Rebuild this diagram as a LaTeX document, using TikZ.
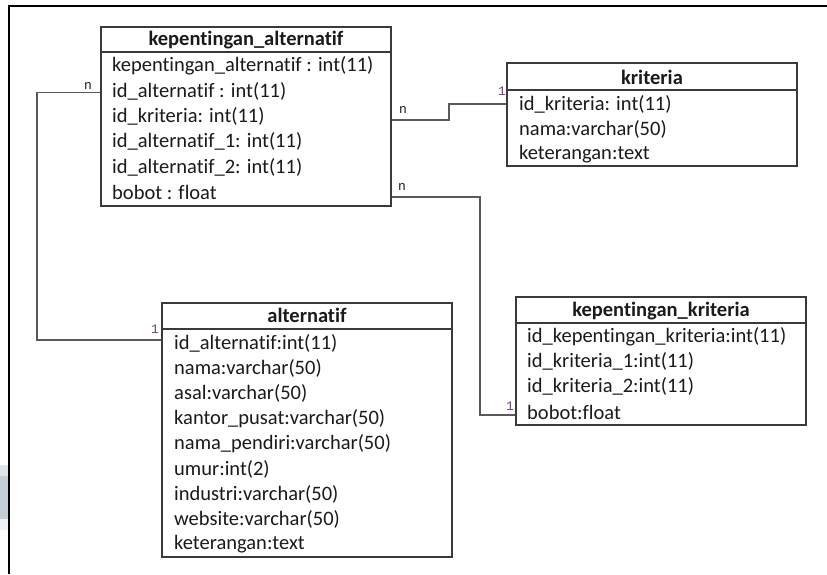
\documentclass[tikz,border=0pt]{standalone}
\usepackage{fontspec}
\setmainfont{Carlito}[Ligatures=NoCommon]
\newfontfamily\cardfont{Liberation Mono}
\usetikzlibrary{calc}
\definecolor{boxline}{HTML}{3A3A3A}
\definecolor{connline}{HTML}{5A5A5A}
\definecolor{txt}{HTML}{1A1A1A}
\definecolor{onecol}{HTML}{6B466E}
\definecolor{bandA}{HTML}{DFE6EA}
\definecolor{bandB}{HTML}{C3CED4}
\definecolor{bandC}{HTML}{EEF2F5}
\tikzset{
  tablebox/.style={draw=boxline, line width=1.2pt, minimum width=290pt, inner sep=0pt, fill=white},
  headrule/.style={draw=boxline, line width=1.2pt},
  title/.style={font=\fontsize{20.5}{25}\selectfont\bfseries, text=txt, inner sep=0pt, anchor=center},
  field/.style={font=\fontsize{20.5}{25}\selectfont, text=txt, inner sep=0pt, anchor=west},
  conn/.style={draw=connline, line width=1.3pt},
  cardn/.style={font=\cardfont\fontsize{13}{14}\selectfont, text=txt, inner sep=0pt},
  card1/.style={font=\cardfont\fontsize{13}{14}\selectfont, text=onecol, inner sep=0pt},
}
\begin{document}
\begin{tikzpicture}[x=1pt, y=-1pt]
\useasboundingbox (0,0) rectangle (827,574);
\fill[white] (0,0) rectangle (827,574);

% shaded strip at the left edge
\fill[bandA] (0,465) rectangle (8,476);
\fill[bandB] (0,476) rectangle (8,519);
\fill[bandC] (0,519) rectangle (8,530);

% outer frame
\draw[black, line width=1.8pt] (9,574) -- (9,6) -- (827,6);

% ---- tables ----
\node[tablebox, minimum height=179pt] (ka) at (246,116.5) {};
\draw[headrule] (101,52) -- (391,52);
\node[title] (kaT) at (246,40) {kepentingan\_alternatif};
\node[field] (ka1) at (112,66) {kepentingan\_alternatif : int(11)};
\node[field] (ka2) at (112,91) {id\_alternatif : int(11)};
\node[field] (ka3) at (112,116) {id\_kriteria: int(11)};
\node[field] (ka4) at (112,141) {id\_alternatif\_1: int(11)};
\node[field] (ka5) at (112,167) {id\_alternatif\_2: int(11)};
\node[field] (ka6) at (112,192.5) {bobot : float};

\node[tablebox, minimum height=103pt] (kr) at (652,114.5) {};
\draw[headrule] (507,90) -- (797,90);
\node[title] (krT) at (652,77) {kriteria};
\node[field] (kr1) at (519,104) {id\_kriteria: int(11)};
\node[field] (kr2) at (519,129.5) {nama:varchar(50)};
\node[field] (kr3) at (519,154.5) {keterangan:text};

\node[tablebox, minimum height=254pt] (al) at (307,430) {};
\draw[headrule] (162,329) -- (452,329);
\node[title] (alT) at (307,315.5) {alternatif};
\node[field] (al1) at (174,343) {id\_alternatif:int(11)};
\node[field] (al2) at (174,368) {nama:varchar(50)};
\node[field] (al3) at (174,393.5) {asal:varchar(50)};
\node[field] (al4) at (174,418.5) {kantor\_pusat:varchar(50)};
\node[field] (al5) at (174,444) {nama\_pendiri:varchar(50)};
\node[field] (al6) at (174,469) {umur:int(2)};
\node[field] (al7) at (174,494) {industri:varchar(50)};
\node[field] (al8) at (174,519.5) {website:varchar(50)};
\node[field] (al9) at (174,544.5) {keterangan:text};

\node[tablebox, minimum height=128pt] (kk) at (661,361) {};
\draw[headrule] (516,323) -- (806,323);
\node[title] (kkT) at (661,311) {kepentingan\_kriteria};
\node[field] (kk1) at (527,336.5) {id\_kepentingan\_kriteria:int(11)};
\node[field] (kk2) at (527,361.5) {id\_kriteria\_1:int(11)};
\node[field] (kk3) at (527,386.5) {id\_kriteria\_2:int(11)};
\node[field] (kk4) at (527,412) {bobot:float};

% ---- relations ----
\draw[conn] (ka.west |- 0,92.5) -- (37,92.5) |- (al.west |- 0,340);
\node[cardn] (n1) at (88,86) {n};
\node[card1] (o1) at (155,329) {1};

\draw[conn] (ka.east |- 0,120) -- (449,120) -- (449,104) -- (kr.west |- 0,104);
\node[cardn] (n2) at (403,110) {n};
\node[card1] (o2) at (502,91) {1};

\draw[conn] (ka.east |- 0,197) -- (480,197) |- (kk.west |- 0,415);
\node[cardn] (n3) at (402,187) {n};
\node[card1] (o3) at (510,406) {1};
\end{tikzpicture}
\end{document}
